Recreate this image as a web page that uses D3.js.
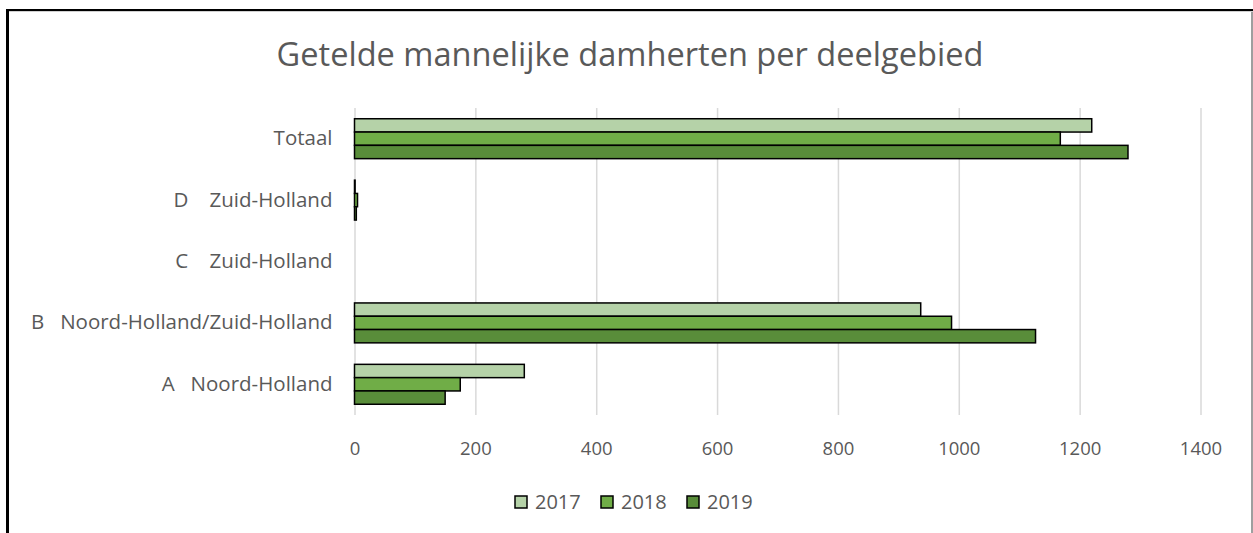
<!DOCTYPE html>
<html>
<head>
<meta charset="utf-8">
<script src="https://cdn.jsdelivr.net/npm/d3@7"></script>
<style>
  body { margin: 0; background: #fff; }
  text { font-family: "Open Sans", "Noto Sans", sans-serif; fill: #595959; }
</style>
</head>
<body>
<div id="chart"></div>
<script>
// data
var categories = ["Totaal", "D    Zuid-Holland", "C    Zuid-Holland", "B   Noord-Holland/Zuid-Holland", "A   Noord-Holland"];
var years = ["2017", "2018", "2019"];
var values2017 = [1220, 1, 0, 937, 281];
var values2018 = [1168, 5, 0, 988, 175];
var values2019 = [1280, 3, 0, 1127, 150];
var xTicks = [0, 200, 400, 600, 800, 1000, 1200, 1400];
var colors = ["#b5d2a8", "#70ad47", "#598d3a"];

var width = 1253, height = 533;
var svg = d3.select("#chart").append("svg")
    .attr("width", width)
    .attr("height", height);

// frame pieces visible round the chart
svg.append("line").attr("x1", 1252).attr("x2", 1252).attr("y1", 10).attr("y2", height)
    .attr("stroke", "#7f7f7f").attr("stroke-width", 1.5);
svg.append("line").attr("x1", 6).attr("x2", width).attr("y1", 11.5).attr("y2", 11.5)
    .attr("stroke", "#d0d0d0").attr("stroke-width", 1);
svg.append("line").attr("x1", 6).attr("x2", width).attr("y1", 10).attr("y2", 10)
    .attr("stroke", "#000").attr("stroke-width", 2);
svg.append("line").attr("x1", 7.5).attr("x2", 7.5).attr("y1", 9).attr("y2", height)
    .attr("stroke", "#000").attr("stroke-width", 3);

// title, fitted to the width it has in the picture
var title = svg.append("text")
    .attr("x", 630).attr("y", 66)
    .attr("text-anchor", "middle")
    .style("font-size", "30px")
    .text("Getelde mannelijke damherten per deelgebied");
var tw = title.node().getComputedTextLength();
title.style("font-size", (30 * 707 / tw) + "px");

var plotTop = 108, plotBottom = 415;
var x = d3.scaleLinear().domain([0, 1400]).range([354.5, 1200.5]);
var y = d3.scaleBand().domain(categories).range([plotTop, plotBottom]);
var groupH = y.step() * 0.65;
var y1 = d3.scaleBand().domain(years).range([0, groupH]);

// gridlines + tick labels
var xAxis = svg.append("g")
    .attr("transform", "translate(0," + plotBottom + ")")
    .call(d3.axisBottom(x).tickValues(xTicks).tickFormat(d3.format("d"))
        .tickSize(-(plotBottom - plotTop)));
xAxis.select(".domain").remove();
xAxis.selectAll(".tick line").attr("stroke", "#d9d9d9").attr("stroke-width", 1.5);
xAxis.selectAll(".tick text")
    .attr("y", 27)
    .style("font-size", "18.5px").style("font-family", "\"Open Sans\", sans-serif")
    .attr("fill", "#595959");

// category labels
var yAxis = svg.append("g")
    .attr("transform", "translate(354.5,0)")
    .call(d3.axisLeft(y).tickSize(0).tickPadding(22));
yAxis.select(".domain").remove();
yAxis.selectAll(".tick text")
    .style("font-size", "20.5px").style("font-family", "\"Open Sans\", sans-serif")
    .style("white-space", "pre")
    .attr("fill", "#595959");

var series = [values2017, values2018, values2019];

var groups = svg.append("g").selectAll("g")
    .data(years)
    .enter().append("g")
    .attr("fill", function(d, i) { return colors[i]; });

groups.selectAll("rect")
    .data(function(d, i) {
        return categories.map(function(c, j) { return { cat: c, year: d, value: series[i][j] }; });
    })
    .enter()
    .filter(function(d) { return d.value > 0; })
    .append("rect")
    .attr("x", x(0))
    .attr("y", function(d) { return y(d.cat) + (y.step() - groupH) / 2 + y1(d.year); })
    .attr("width", function(d) { return x(d.value) - x(0); })
    .attr("height", y1.bandwidth())
    .attr("stroke", "#000")
    .attr("stroke-width", 1.5);

// legend
var legendX = [515, 601, 687];
var legend = svg.append("g").selectAll("g")
    .data(years)
    .enter().append("g")
    .attr("transform", function(d, i) { return "translate(" + legendX[i] + ",496)"; });
legend.append("rect")
    .attr("width", 12).attr("height", 12)
    .attr("fill", function(d, i) { return colors[i]; })
    .attr("stroke", "#000").attr("stroke-width", 1.5);
legend.append("text")
    .attr("x", 20).attr("y", 13)
    .style("font-size", "20px")
    .text(function(d) { return d; });
</script>
</body>
</html>
